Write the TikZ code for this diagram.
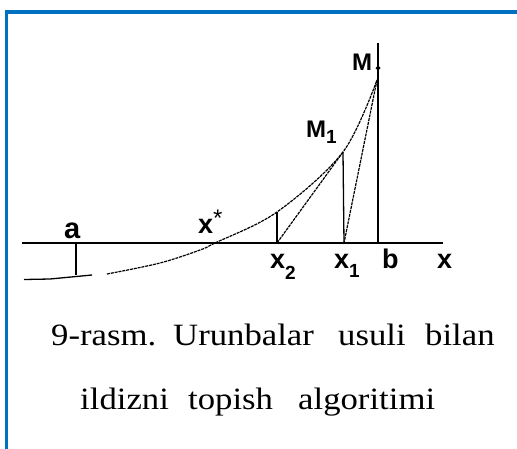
\documentclass[tikz,border=0pt]{standalone}
\usepackage{fontspec}
\setmainfont{Liberation Serif}
\newfontfamily\labfont{Liberation Sans}
\definecolor{frameblue}{HTML}{0070C0}
\begin{document}
\begin{tikzpicture}[x=1pt,y=-1pt,
  solid line/.style={line width=1.3pt},
  curveline/.style={line width=1.2pt, dash pattern=on 3pt off 0.9pt},
  chord/.style={line width=1.2pt, dash pattern=on 3pt off 0.9pt},
  lab/.style={font=\labfont\bfseries\fontsize{27}{27}\selectfont, inner sep=0pt, anchor=base west},
  labM/.style={font=\labfont\bfseries\fontsize{24}{24}\selectfont, inner sep=0pt, anchor=base west},
  capword/.style={font=\fontsize{31}{31}\selectfont, inner sep=0pt, anchor=base west}]
\useasboundingbox (0,0) rectangle (517,448);
\clip (0,0) rectangle (517,448);
\fill[white] (0,0) rectangle (517,448);
% frame
\draw[frameblue, line width=3.5pt] (6.5,470) -- (6.5,12) -- (540,12);
% points
\coordinate (A0) at (22,243);
\coordinate (A1) at (443,243);
\coordinate (ta) at (76,243);
\coordinate (tab) at (76,275);
\coordinate (L0) at (24,279.5);
\coordinate (L1) at (50,279);
\coordinate (L2) at (92,275);
\coordinate (P2) at (277,212);
\coordinate (M1p) at (343,152);
\coordinate (Mp) at (377,80);
\coordinate (x2) at (277,243);
\coordinate (x1) at (344,243);
\coordinate (bb) at (378,243);
\coordinate (btop) at (378,43);
% axis and solid lines
\draw[solid line] (A0) -- (A1);
\draw[solid line] (ta) -- (tab);
\draw[solid line] (L0) -- (L1) -- (L2);
\draw[solid line] (btop) -- (bb);
\draw[solid line] (M1p) -- (x1);
\draw[solid line] (P2) -- (x2);
% curve
\draw[curveline] plot[smooth, tension=0.55] coordinates
  {(107,274) (160,263) (200,250) (215,243) (277,212) (343,152) (377,80)};
% chords
\draw[chord] (Mp) -- (x1);
\draw[chord] (M1p) -- (x2);
\draw[line width=1pt] (378,68) circle (1.8);
% labels
\node[lab, font=\labfont\bfseries\fontsize{29}{29}\selectfont] (la) at (64,238) {a};
\node[lab] (lxs) at (198,233) {x\raisebox{7pt}{\mdseries\fontsize{24}{24}\selectfont *}};
\node[labM] (lM1) at (306,137) {M\raisebox{-6pt}{\fontsize{19}{19}\selectfont 1}};
\node[labM] (lM) at (352,70) {M};
\node[lab] (lx2) at (270,268) {x\raisebox{-11pt}{\fontsize{19}{19}\selectfont 2}};
\node[lab] (lx1) at (334,268) {x\raisebox{-9pt}{\fontsize{19}{19}\selectfont 1}};
\node[lab] (lb) at (382,268) {b};
\node[lab] (lx) at (437,268) {x};
% caption
\node[capword] (c1) at (51,345) {\scalebox{1.12}[1]{9-rasm.}};
\node[capword] (c2) at (173,345) {\scalebox{1.12}[1]{Urunbalar}};
\node[capword] (c3) at (338,345) {\scalebox{1.12}[1]{usuli}};
\node[capword] (c4) at (425,345) {\scalebox{1.12}[1]{bilan}};
\node[capword] (c5) at (80,409) {\scalebox{1.12}[1]{ildizni}};
\node[capword] (c6) at (188,409) {\scalebox{1.12}[1]{topish}};
\node[capword] (c7) at (298,409) {\scalebox{1.12}[1]{algoritimi}};
\end{tikzpicture}
\end{document}
